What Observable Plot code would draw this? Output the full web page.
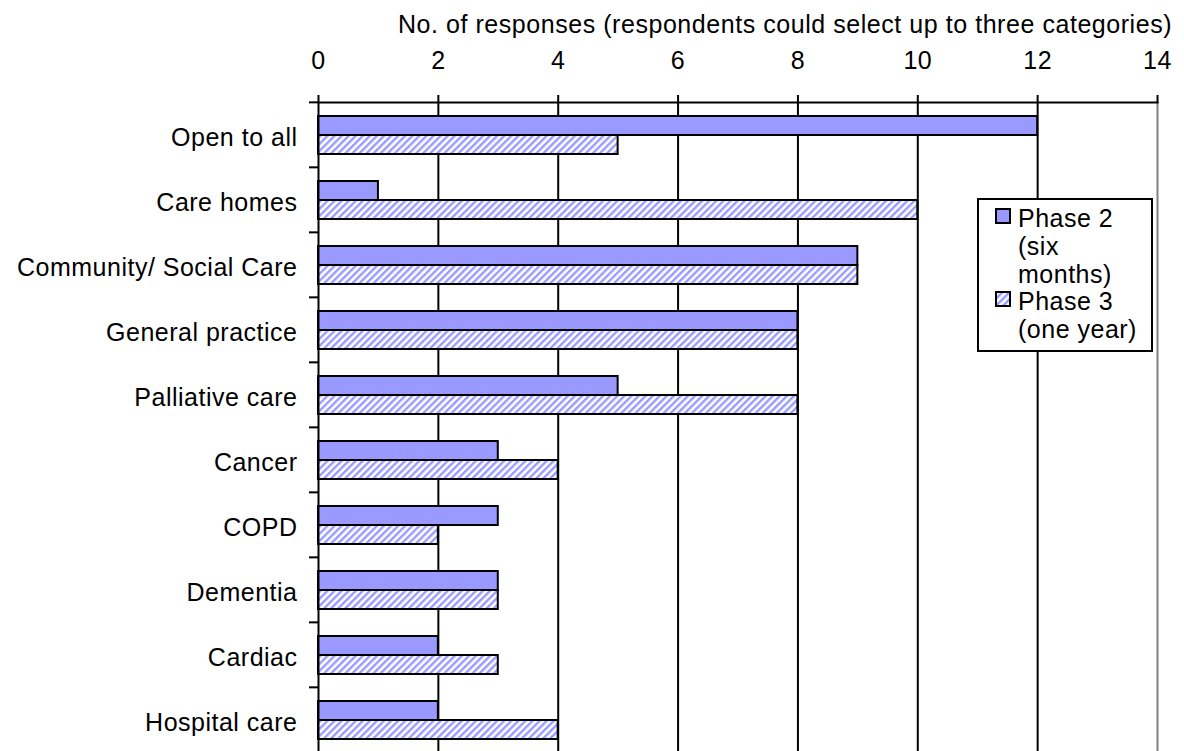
<!DOCTYPE html>
<html><head><meta charset="utf-8">
<script src="https://cdn.jsdelivr.net/npm/d3@7"></script>
<script src="https://cdn.jsdelivr.net/npm/@observablehq/plot@0.6"></script>
<style>
body{margin:0;background:#fff;font-family:Arial,"Liberation Sans",sans-serif;}
#wrap{position:relative;width:1184px;height:751px;overflow:hidden;}
#wrap svg text{letter-spacing:0.5px;}
#title{position:absolute;left:785px;top:12px;transform:translateX(-50%);font-size:25px;line-height:25px;white-space:nowrap;color:#000;letter-spacing:0.55px;}
#legend{position:absolute;left:977px;top:198px;width:176px;height:154px;box-sizing:border-box;border:2px solid #000;background:#fff;font-size:25px;line-height:28px;color:#000;letter-spacing:0.5px;}
.item{position:absolute;left:16px;}
.item svg{position:absolute;left:0;top:4px;}
.item div{position:absolute;left:23px;top:0;white-space:nowrap;}
</style></head><body>
<div id="wrap"><div id="title"></div><div id="legend"></div></div>
<script>
const categories = ["Open to all","Care homes","Community/ Social Care","General practice","Palliative care","Cancer","COPD","Dementia","Cardiac","Hospital care"];
const phase2 = [12,1,9,8,5,3,3,3,2,2];
const phase3 = [5,10,9,8,8,4,2,3,3,4];
const seriesNames = ["Phase 2 (six months)","Phase 3 (one year)"];
const legendLines = [["Phase 2","(six","months)"],["Phase 3","(one year)"]];
const xTicks = [0,2,4,6,8,10,12,14];
const axisTitle = "No. of responses (respondents could select up to three categories)";

const W = 1184, H = 751, MT = 100, MB = -2, ML = 318, MR = 27;
const band = (H - MT - MB) / categories.length;
const rows = categories.flatMap((c, i) => [
  {category: c, phase: seriesNames[0], value: phase2[i]},
  {category: c, phase: seriesNames[1], value: phase3[i]}
]);

const chart = Plot.plot({
  width: W, height: H, marginTop: MT, marginBottom: MB, marginLeft: ML, marginRight: MR,
  style: {fontFamily: "Arial, 'Liberation Sans', sans-serif", fontSize: "25px", color: "#000", background: "transparent", overflow: "visible"},
  x: {domain: [0, 14], axis: null},
  y: {domain: seriesNames, paddingOuter: 0.71, paddingInner: 0, axis: null},
  fy: {domain: categories, padding: 0, axis: null},
  color: {domain: seriesNames, range: ["#9999FF", "url(#hatch)"]},
  marks: [
    Plot.ruleX(xTicks.filter(d => d > 0 && d < 14), {stroke: "#000", strokeWidth: 2}),
    Plot.ruleX([14], {stroke: "#808080", strokeWidth: 2}),
    Plot.barX(rows, {fy: "category", y: "phase", x: "value", fill: "phase", stroke: "#000", strokeWidth: 2}),
    Plot.ruleX([0], {stroke: "#000", strokeWidth: 2}),
    Plot.frame({anchor: "top", facet: "super", stroke: "#000", strokeWidth: 2}),
    Plot.axisX(xTicks, {anchor: "top", tickSize: 8, tickPadding: 26, strokeWidth: 2, label: null, fontSize: 25}),
    Plot.axisFy({anchor: "left", tickSize: 0, tickPadding: 21, label: null, fontSize: 25, dy: 3}),
    Plot.axisFy({anchor: "left", tickSize: 9, text: null, dy: -band / 2, strokeWidth: 2, label: null})
  ]
});

const defs = d3.select(chart).insert("defs", ":first-child");
const pat = defs.append("pattern").attr("id", "hatch").attr("patternUnits", "userSpaceOnUse")
  .attr("width", 5).attr("height", 5).attr("patternTransform", "rotate(45)");
pat.append("rect").attr("width", 5).attr("height", 5).attr("fill", "#fff");
pat.append("rect").attr("width", 2.4).attr("height", 5).attr("fill", "#9999FF");

const wrap = document.getElementById("wrap");
wrap.insertBefore(chart, wrap.firstChild);
document.getElementById("title").textContent = axisTitle;

const legend = d3.select("#legend");
const fills = ["#9999FF", "url(#hatch)"];
const tops = [4, 87];
legendLines.forEach((lines, i) => {
  const item = legend.append("div").attr("class", "item").style("top", tops[i] + "px");
  const sw = item.append("svg").attr("width", 16).attr("height", 16);
  sw.append("rect").attr("x", 1).attr("y", 1).attr("width", 14).attr("height", 14)
    .attr("fill", fills[i]).attr("stroke", "#000").attr("stroke-width", 2);
  item.append("div").html(lines.join("<br>"));
});
</script>
</body></html>
